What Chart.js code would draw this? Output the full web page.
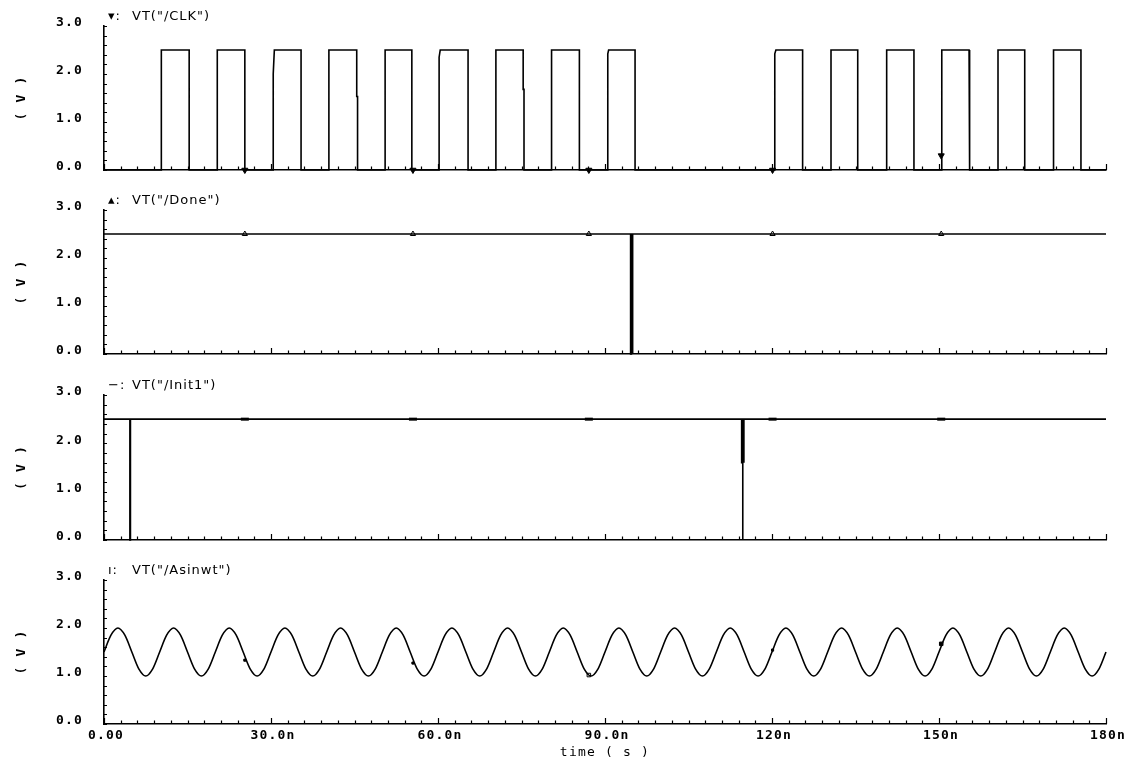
<!DOCTYPE html>
<html><head><meta charset="utf-8">
<script src="https://cdn.jsdelivr.net/npm/chart.js@4/dist/chart.umd.min.js"></script>
<style>
html,body{margin:0;padding:0;background:#fff;}
#wrap{position:relative;width:1130px;height:761px;background:#fff;overflow:hidden}
canvas{position:absolute;left:0}
</style></head><body><div id="wrap">
<canvas id="c0" width="1130" height="184" style="top:0px"></canvas>
<canvas id="c1" width="1130" height="184" style="top:184px"></canvas>
<canvas id="c2" width="1130" height="185" style="top:369px"></canvas>
<canvas id="c3" width="1130" height="207" style="top:554px"></canvas>
</div>
<script>
// ---------- data (time in ns, voltage in V) ----------
const clkT = [0,10.3,10.3,15.3,15.3,20.35,20.35,25.3,25.3,30.4,30.4,30.6,35.4,35.4,40.4,40.4,45.4,45.4,45.55,45.55,
  50.5,50.5,55.3,55.3,60.2,60.2,60.4,65.4,65.4,70.4,70.4,75.3,75.3,75.45,75.45,80.3,80.3,80.45,80.45,85.4,85.4,
  90.5,90.5,90.65,95.4,95.4,120.5,120.5,120.7,125.5,125.5,130.6,130.6,135.4,135.4,140.5,140.5,140.65,140.65,145.5,145.5,
  150.5,150.5,155.4,155.4,155.55,155.55,160.6,160.6,165.4,165.4,170.5,170.5,170.65,175.5,175.5,180];
const clkV = [0,0,2.5,2.5,0,0,2.5,2.5,0,0,2.0,2.5,2.5,0,0,2.5,2.5,1.53,1.53,0,
  0,2.5,2.5,0,0,2.35,2.5,2.5,0,0,2.5,2.5,1.68,1.68,0,0,0.18,0.25,2.5,2.5,0,
  0,2.42,2.5,2.5,0,0,2.42,2.5,2.5,0,0,2.5,2.5,0,0,1.85,1.9,2.5,2.5,0,
  0,2.5,2.5,1.55,1.55,0,0,2.5,2.5,0,0,2.42,2.5,2.5,0,0];

const doneT = [0,94.6,94.6,94.75,94.75,94.9,94.9,95.0,95.0,180];
const doneV = [2.5,2.5,0,0,2.5,2.5,0,0,2.5,2.5];

const initT = [0,4.65,4.65,4.75,4.75,114.55,114.55,114.75,114.75,114.75,114.95,114.95,114.95,180];
const initV = [2.5,2.5,0,0,2.5,2.5,1.6,1.6,0,2.5,2.5,1.6,2.5,2.5];

const asinT = [
0,1.25,2.5,3.75,5,6.25,7.5,8.75,
10,11.25,12.5,13.75,15,16.25,17.5,18.75,
20,21.25,22.5,23.75,25,26.25,27.5,28.75,
30,31.25,32.5,33.75,35,36.25,37.5,38.75,
40,41.25,42.5,43.75,45,46.25,47.5,48.75,
50,51.25,52.5,53.75,55,56.25,57.5,58.75,
60,61.25,62.5,63.75,65,66.25,67.5,68.75,
70,71.25,72.5,73.75,75,76.25,77.5,78.75,
80,81.25,82.5,83.75,85,86.25,87.5,88.75,
90,91.25,92.5,93.75,95,96.25,97.5,98.75,
100,101.25,102.5,103.75,105,106.25,107.5,108.75,
110,111.25,112.5,113.75,115,116.25,117.5,118.75,
120,121.25,122.5,123.75,125,126.25,127.5,128.75,
130,131.25,132.5,133.75,135,136.25,137.5,138.75,
140,141.25,142.5,143.75,145,146.25,147.5,148.75,
150,151.25,152.5,153.75,155,156.25,157.5,158.75,
160,161.25,162.5,163.75,165,166.25,167.5,168.75,
170,171.25,172.5,173.75,175,176.25,177.5,178.75,
180];
const asinV = [
1.5,1.85,2.0,1.85,1.5,1.15,1.0,1.15,
1.5,1.85,2.0,1.85,1.5,1.15,1.0,1.15,
1.5,1.85,2.0,1.85,1.5,1.15,1.0,1.15,
1.5,1.85,2.0,1.85,1.5,1.15,1.0,1.15,
1.5,1.85,2.0,1.85,1.5,1.15,1.0,1.15,
1.5,1.85,2.0,1.85,1.5,1.15,1.0,1.15,
1.5,1.85,2.0,1.85,1.5,1.15,1.0,1.15,
1.5,1.85,2.0,1.85,1.5,1.15,1.0,1.15,
1.5,1.85,2.0,1.85,1.5,1.15,1.0,1.15,
1.5,1.85,2.0,1.85,1.5,1.15,1.0,1.15,
1.5,1.85,2.0,1.85,1.5,1.15,1.0,1.15,
1.5,1.85,2.0,1.85,1.5,1.15,1.0,1.15,
1.5,1.85,2.0,1.85,1.5,1.15,1.0,1.15,
1.5,1.85,2.0,1.85,1.5,1.15,1.0,1.15,
1.5,1.85,2.0,1.85,1.5,1.15,1.0,1.15,
1.5,1.85,2.0,1.85,1.5,1.15,1.0,1.15,
1.5,1.85,2.0,1.85,1.5,1.15,1.0,1.15,
1.5,1.85,2.0,1.85,1.5,1.15,1.0,1.15,
1.5];

// marker positions (ns) and values
const markT = [25.3, 55.5, 87.1, 120.1, 150.4];
const clkMarkV = [0, 0, 0, 0, 0.3];
const doneMarkV = [2.5, 2.5, 2.5, 2.5, 2.5];
const initMarkV = [2.5, 2.5, 2.5, 2.5, 2.5];
const asinMarkV = [1.33, 1.27, 1.02, 1.54, 1.67];

// tick labels
const yTickValues = [0, 1, 2, 3];
const yTickLabels = ['0.0', '1.0', '2.0', '3.0'];
const xTickValues = [0, 30, 60, 90, 120, 150, 180];
const xTickLabels = ['0.00', '30.0n', '60.0n', '90.0n', '120n', '150n', '180n'];

const panelMarks = ['\u25BE:', '\u25B4:', '\u2212:', '\u0131:'];
const panelTitles = ['VT("/CLK")', 'VT("/Done")', 'VT("/Init1")', 'VT("/Asinwt")'];

// ---------- helpers ----------
const pts = (ts, vs) => ts.map((t, i) => ({x: t, y: vs[i]}));
const tickFont = {family: 'DejaVu Sans Mono', size: 13, weight: 'bold'};

const inwardTicks = {
  id: 'inwardTicks',
  beforeDraw(chart) { chart.ctx.letterSpacing = '1.2px'; },
  afterDraw(chart) {
    const {ctx, chartArea: a, scales: {x, y}} = chart;
    ctx.save();
    ctx.strokeStyle = '#000';
    ctx.lineWidth = 1.2;
    ctx.beginPath();
    for (let t = 0; t <= 180; t += 3) {
      const px = Math.round(x.getPixelForValue(t)) + 0.5;
      const len = (t % 30 === 0) ? 6 : 3.5;
      ctx.moveTo(px, a.bottom); ctx.lineTo(px, a.bottom - len);
    }
    for (let k = 0; k <= 15; k++) {
      const py = Math.round(y.getPixelForValue(k * 0.2)) + 0.5;
      ctx.moveTo(a.left, py); ctx.lineTo(a.left + 3, py);
    }
    ctx.stroke();
    // panel title
    const idx = chart.options.plugins.panelTitle.index;
    ctx.letterSpacing = '1px';
    ctx.fillStyle = '#000';
    ctx.font = '13px "DejaVu Sans"';
    ctx.textAlign = 'left';
    ctx.textBaseline = 'middle';
    ctx.fillText(panelMarks[idx], 108, a.top - 9);
    ctx.fillText(panelTitles[idx], 132, a.top - 9);
    ctx.restore();
  }
};

function makePanel(id, idx, datasets, isBottom) {
  return new Chart(document.getElementById(id), {
    type: 'line',
    data: {datasets},
    plugins: [inwardTicks],
    options: {
      responsive: false, animation: false, events: [],
      layout: {padding: {left: 0, right: 24, top: 26, bottom: 0}},
      plugins: {legend: {display: false}, tooltip: {enabled: false}, panelTitle: {index: idx}},
      elements: {line: {borderColor: '#000', borderWidth: 1.6}, point: {radius: 0}},
      scales: {
        x: {
          type: 'linear', min: 0, max: 180, position: 'bottom',
          grid: {display: false, drawTicks: false},
          border: {display: true, color: '#000', width: 1.6},
          ticks: {display: isBottom, stepSize: 30, padding: 4, labelOffset: 2, autoSkip: false, maxRotation: 0, color: '#000', font: tickFont,
            callback: v => { const i = xTickValues.indexOf(v); return i >= 0 ? xTickLabels[i] : ''; }},
          title: {display: isBottom, text: 'time ( s )', color: '#000', font: {family: 'DejaVu Sans Mono', size: 13}, padding: {top: 0, bottom: 1}},
          afterFit: s => { s.height = isBottom ? 37 : 14; }
        },
        y: {
          min: 0, max: 3,
          grid: {display: false, drawTicks: true, tickLength: 21},
          border: {display: true, color: '#000', width: 1.6},
          ticks: {stepSize: 1, padding: 0, labelOffset: -3, color: '#000', font: tickFont,
            callback: v => { const i = yTickValues.indexOf(v); return i >= 0 ? yTickLabels[i] : ''; }},
          title: {display: true, text: '( V )', color: '#000', font: {family: 'DejaVu Sans Mono', size: 13, weight: 'bold'}, padding: {top: 14, bottom: 0}},
          afterFit: s => { s.width = 104; }
        }
      }
    }
  });
}

const lineDs = (ts, vs, extra) => Object.assign({data: pts(ts, vs), borderColor: '#000', borderWidth: 1.6, pointRadius: 0, tension: 0, clip: false, fill: false}, extra || {});
const markDs = (vs, style) => Object.assign({data: pts(markT, vs), showLine: false, clip: false, borderColor: '#000', backgroundColor: '#000'}, style);

makePanel('c0', 0, [
  lineDs(clkT, clkV),
  markDs(clkMarkV, {pointStyle: 'triangle', pointRotation: 180, pointRadius: 3.5, borderWidth: 1})
], false);
makePanel('c1', 1, [
  lineDs(doneT, doneV),
  markDs(doneMarkV, {pointStyle: 'triangle', pointRadius: 3, borderWidth: 1, backgroundColor: '#fff'})
], false);
makePanel('c2', 2, [
  lineDs(initT, initV),
  markDs(initMarkV, {pointStyle: 'line', pointRadius: 4, borderWidth: 3})
], false);
makePanel('c3', 3, [
  lineDs(asinT, asinV, {cubicInterpolationMode: 'monotone'}),
  markDs(asinMarkV, {pointStyle: 'rect', pointRadius: [1.5, 1.5, 2.5, 1.5, 2.5], borderWidth: 1,
    backgroundColor: ['#000', '#000', '#fff', '#000', '#000']})
], true);
</script>
</body></html>
